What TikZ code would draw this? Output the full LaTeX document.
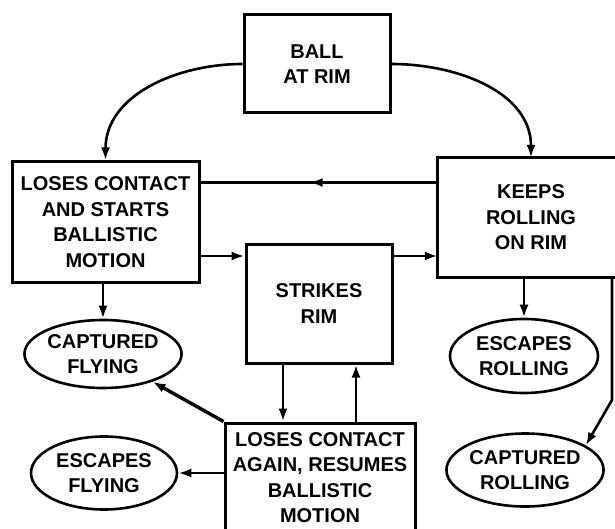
\documentclass[tikz,border=0pt]{standalone}
\usepackage{fontspec}
\setmainfont{Liberation Sans}
\usetikzlibrary{arrows.meta,positioning,shapes.geometric,decorations.markings}

\begin{document}
\begin{tikzpicture}[x=1pt,y=-1pt,
  >={Latex[length=13pt,width=9pt]},
  every node/.style={font=\fontsize{20}{25.5}\selectfont\bfseries,align=center,inner sep=0pt},
  box/.style={draw,line width=3pt,rectangle},
  oval/.style={draw,line width=2.6pt,ellipse},
  link/.style={line width=2.6pt},
  midarrow/.style={postaction={decorate},decoration={markings,mark=at position #1 with {\arrow{>}}}}]
  \useasboundingbox (0,0) rectangle (615,529);
  \node[box,minimum width=146pt,minimum height=98pt] (ball) at (317,64) {BALL\\AT RIM};
  \node[box,minimum width=187pt,minimum height=120pt] (lost) at (105.5,222) {LOSES CONTACT\\AND STARTS\\BALLISTIC\\MOTION};
  \node[box,minimum width=146pt,minimum height=119pt] (strikes) at (319,303.5) {STRIKES\\RIM};
  \node[minimum width=186pt,minimum height=119pt] (keeps) at (531,217.5) {KEEPS\\ROLLING\\ON RIM};
  \draw[box] (keeps.south west) rectangle ([xshift=40pt]keeps.north east);
  \node[box,minimum width=190pt,minimum height=109pt] (resumes) at (320,477.5) {LOSES CONTACT\\AGAIN, RESUMES\\BALLISTIC\\MOTION};
  \node[oval,minimum width=148pt,minimum height=68pt] (capfly) at (103,354) {CAPTURED\\FLYING};
  \node[oval,minimum width=146pt,minimum height=73pt] (escfly) at (104,473) {ESCAPES\\FLYING};
  \node[oval,minimum width=148pt,minimum height=74pt] (escroll) at (524,356) {ESCAPES\\ROLLING};
  \node[oval,minimum width=144pt,minimum height=73pt] (caproll) at (525,470) {CAPTURED\\ROLLING};
  \coordinate (bend) at (612,400);

  \draw[link,->] (ball.west) to[out=180,in=90] (lost.north);
  \draw[link,->] (ball.east) to[out=0,in=90] (keeps.north);
  \draw[link,midarrow=0.54] ([yshift=35pt]keeps.west) -- ([yshift=35pt]keeps.west -| lost.east);
  \draw[link,->] (lost.east |- 0,256) -- (strikes.west |- 0,256);
  \draw[link,->] (strikes.east |- 0,256) -- (keeps.west |- 0,256);
  \draw[link,->] (strikes.south -| 283,0) -- (resumes.north -| 283,0);
  \draw[link,->] (resumes.north -| 356,0) -- (strikes.south -| 356,0);
  \draw[link,->] (capfly.north |- lost.south) -- (capfly.north);
  \draw[link,->] (escroll.north |- keeps.south) -- (escroll.north);
  \draw[link,->] (keeps.south -| bend) -- (bend) -- (caproll.22);
  \draw[link,->,line width=3.4pt] (resumes.north west) -- (capfly);
  \draw[link,->] (resumes.west |- escfly) -- (escfly);
\end{tikzpicture}
\end{document}
